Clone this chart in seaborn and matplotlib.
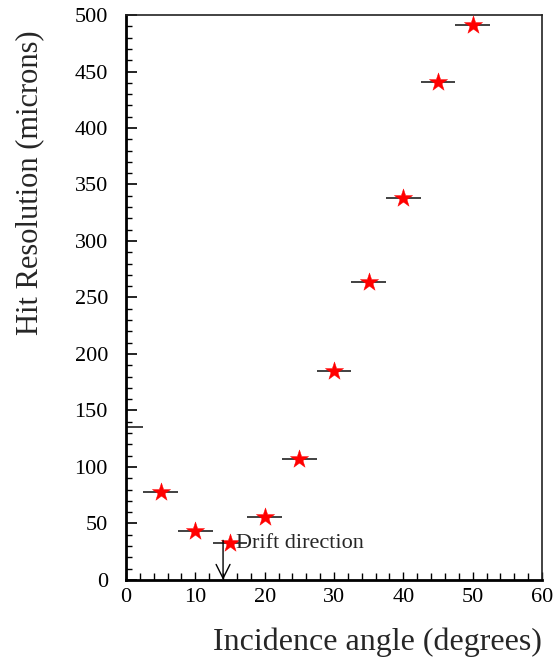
import matplotlib
matplotlib.use("Agg")
import matplotlib.pyplot as plt
import seaborn as sns
import pandas as pd
import numpy as np
from matplotlib.ticker import MultipleLocator

angles = [5, 10, 15, 20, 25, 30, 35, 40, 45, 50]
resolution = [78, 43, 33, 56, 107, 185, 264, 338, 441, 491]
angle_err = [2.5] * len(angles)

extra_angle = [0]
extra_res = [135]
extra_err = [2.5]

arrow_x = 14
arrow_top = 35
arrow_text = "Drift direction"

sns.set_theme(style="white")
plt.rcParams['font.family'] = ['Liberation Serif', 'DejaVu Serif']

fig = plt.figure(figsize=(5.55, 6.65), dpi=100)
ax = fig.add_axes([0.227, 0.128, 0.7496, 0.8494])

df = pd.DataFrame({"angle": angles, "res": resolution, "err": angle_err})

ax.errorbar(extra_angle, extra_res, xerr=extra_err, fmt='none', ecolor='#333333',
            elinewidth=1.3, capsize=0)
ax.errorbar(df["angle"], df["res"], xerr=df["err"], fmt='none', ecolor='#333333',
            elinewidth=1.3, capsize=0, zorder=2)
sns.scatterplot(data=df, x="angle", y="res", marker='*', s=190, color='red',
                edgecolor='red', linewidth=0.3, ax=ax, zorder=3, legend=False)

ax.annotate("", xy=(arrow_x, 0), xytext=(arrow_x, arrow_top),
            arrowprops=dict(arrowstyle='->', color='black', lw=1.0,
                            mutation_scale=25, shrinkA=0, shrinkB=0))
ax.text(arrow_x + 1.8, arrow_top - 3, arrow_text, fontsize=16, va='center', ha='left')

ax.set_xlim(0, 60)
ax.set_ylim(0, 500)
ax.set_xlabel("")
ax.set_ylabel("")
ax.xaxis.set_major_locator(MultipleLocator(10))
ax.xaxis.set_minor_locator(MultipleLocator(2))
ax.yaxis.set_major_locator(MultipleLocator(50))
ax.yaxis.set_minor_locator(MultipleLocator(10))
ax.tick_params(axis='both', which='both', direction='in', top=False, right=False,
               labelsize=16, colors='black')
ax.tick_params(axis='y', which='major', length=8, width=1.2, left=True)
ax.tick_params(axis='y', which='minor', length=4, width=1.0, left=True)
ax.tick_params(axis='x', which='major', length=6, width=1.0, bottom=True)
ax.tick_params(axis='x', which='minor', length=5, width=1.0, bottom=True)
ax.tick_params(axis='x', which='major', pad=6)
ax.tick_params(axis='y', which='major', pad=13)

for side in ['left', 'bottom']:
    ax.spines[side].set_linewidth(2.0)
    ax.spines[side].set_color('black')
for side in ['top', 'right']:
    ax.spines[side].set_linewidth(1.2)
    ax.spines[side].set_color('#222222')

fig.text(542 / 555, 1 - 650 / 665, "Incidence angle (degrees)", fontsize=23,
         ha='right', va='baseline')
fig.text(30 / 555, 1 - 30 / 665, "Hit Resolution (microns)", fontsize=22,
         ha='center', va='top', rotation=90)

fig.savefig("out.png", dpi=100)
